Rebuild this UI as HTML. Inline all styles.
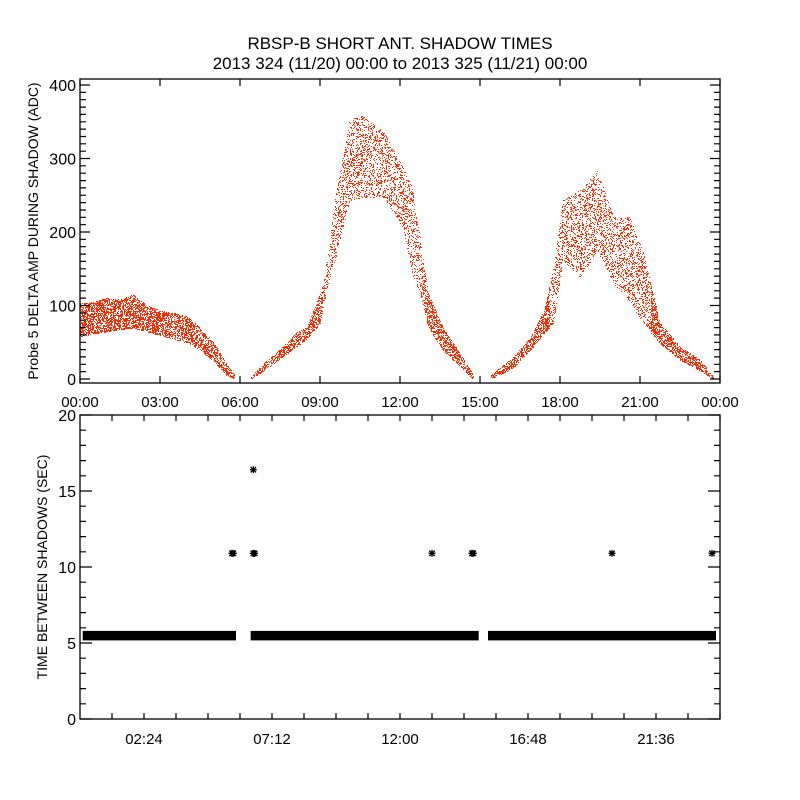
<!DOCTYPE html>
<html><head><meta charset="utf-8">
<style>
html,body{margin:0;padding:0;background:#fff;}
svg{display:block;font-family:"Liberation Sans",sans-serif;}
</style></head>
<body>
<svg id="chart" width="800" height="800" viewBox="0 0 800 800">
<rect x="0" y="0" width="800" height="800" fill="#fff"/>
<text x="400" y="49" text-anchor="middle" font-size="17">RBSP-B SHORT ANT. SHADOW TIMES</text>
<text x="400" y="69" text-anchor="middle" font-size="17">2013 324 (11/20) 00:00 to 2013 325 (11/21) 00:00</text>
<g id="topPanel"></g>
<g id="botPanel"></g>
</svg>
<script>
// ---- Top panel data: envelope (hours, low, high) of Probe 5 delta amplitude ----
const ampHours = [0,0.5,1,1.5,2,2.5,3,3.5,4,4.5,5,5.5,5.8, 6.4,7,7.5,8.1,8.5,9.0,9.3,9.5,10.1,10.6,11.4,12.1,12.45,12.75,13.05,13.6,14.4,14.75, 15.4,16.25,16.9,17.4,17.75,18.1,18.75,19.4,20.0,20.6,21.1,21.75,22.5,23.25,23.75];
const ampLow   = [58,62,65,68,70,65,60,55,50,40,25,5,0, 0,15,28,44,55,76,130,152,243,248,248,207,144,117,71,40,12,0, 0,16,40,63,76,162,139,175,130,107,76,49,26,12,0];
const ampHigh  = [103,105,110,108,115,100,93,90,85,70,50,20,5, 3,25,40,63,70,117,170,234,352,359,335,288,261,193,117,71,26,5, 5,30,57,94,152,243,257,284,220,220,175,76,44,26,3];
const ampGapsAfter = [5.8,14.75];
const yTicksTop = [0,100,200,300,400];
const xTickLabelsTop = ["00:00","03:00","06:00","09:00","12:00","15:00","18:00","21:00","00:00"];

// ---- Bottom panel data ----
const baseValue = 5.5;
const baseSegStart = [0.1,6.4,15.3];
const baseSegEnd   = [5.85,14.95,23.85];
const outlierHours = [5.7,5.75,6.5,6.55,6.5,13.2,14.7,14.75,19.95,23.7];
const outlierVals  = [10.9,10.9,10.9,10.9,16.4,10.9,10.9,10.9,10.9,10.9];
const yTicksBot = [0,5,10,15,20];
const xTickLabelsBot = ["02:24","07:12","12:00","16:48","21:36"];
const xTickHoursBot = [2.4,7.2,12,16.8,21.6];

const NS="http://www.w3.org/2000/svg";
function el(tag,attrs,parent){const e=document.createElementNS(NS,tag);for(const k in attrs)e.setAttribute(k,attrs[k]);parent.appendChild(e);return e;}
const L=80,R=720;
const xs=h=>L+(R-L)*h/24;
const topG=document.getElementById('topPanel'), botG=document.getElementById('botPanel');
const T1=79,B1=383;
const yT=v=>379-v*0.735;
let d="";
for(let px=L;px<=R;px++){
  const h=(px-L)*24/(R-L);
  let i=-1;
  for(let k=0;k<ampHours.length-1;k++){ if(h>=ampHours[k]&&h<=ampHours[k+1]){i=k;break;} }
  if(i<0) continue;
  if(ampGapsAfter.includes(ampHours[i])) continue;
  const t=(h-ampHours[i])/(ampHours[i+1]-ampHours[i]);
  const lo=ampLow[i]+t*(ampLow[i+1]-ampLow[i]);
  const hi=ampHigh[i]+t*(ampHigh[i+1]-ampHigh[i]);
  const y1=Math.round(yT(hi)), y2=Math.round(yT(lo));
  const dense = hi<130;
  for(let py=y1;py<=y2;py++){
    const hsh=Math.abs((px*7919+py*104729)^(px*py*31))%7;
    if(dense ? hsh<4 : hsh<2) d+=`M${px} ${py}h1v1h-1z`;
  }
}
const dots=el('path',{d:d,fill:'#ff2a00'},topG);


const f1=el('rect',{x:L,y:T1,width:R-L,height:B1-T1,fill:'none',stroke:'#000','stroke-width':1.3},topG);


let tk="";
for(let v=0;v<=400;v+=10){const y=yT(v).toFixed(1);const len=v%100===0?10:6;tk+=`M${L} ${y}h${len}M${R} ${y}h${-len}`;}
for(let h=0;h<=24;h+=3){const x=xs(h).toFixed(1);tk+=`M${x} ${B1}v-7M${x} ${T1}v7`;}
const tkp=el('path',{d:tk,stroke:'#000','stroke-width':1.2,fill:'none'},topG);


yTicksTop.forEach(v=>{const t=el('text',{x:L-4,y:yT(v)+6,'text-anchor':'end','font-size':16},topG);t.textContent=v;

});
xTickLabelsTop.forEach((s,i)=>{const t=el('text',{x:xs(i*3),y:407,'text-anchor':'middle','font-size':15},topG);t.textContent=s;

});
const yl1=el('text',{x:0,y:0,'text-anchor':'middle','font-size':14,transform:`translate(38,${(T1+B1)/2}) rotate(-90)`},topG);
yl1.textContent="Probe 5 DELTA AMP DURING SHADOW (ADC)";



const T2=415,B2=719;
const yB=v=>B2-v*(B2-T2)/20;
baseSegStart.forEach((s,i)=>{const r=el('rect',{x:xs(s),y:yB(baseValue)-4.5,width:xs(baseSegEnd[i])-xs(s),height:9.5,fill:'#000'},botG);

});
outlierHours.forEach((h,i)=>{const x=xs(h),y=yB(outlierVals[i]);
const a=el('path',{d:`M${x-3.5} ${y}h7M${x} ${y-3.5}v7M${x-2.7} ${y-2.7}l5.4 5.4M${x-2.7} ${y+2.7}l5.4 -5.4`,stroke:'#000','stroke-width':1.3},botG);

});
const f2=el('rect',{x:L,y:T2,width:R-L,height:B2-T2,fill:'none',stroke:'#000','stroke-width':1.3},botG);


let tk2="";
for(let v=0;v<=20;v+=1){const y=yB(v).toFixed(1);const len=v%5===0?12:6;tk2+=`M${L} ${y}h${len}M${R} ${y}h${-len}`;}
for(let h=1.2;h<24;h+=1.2){const x=xs(h).toFixed(1);tk2+=`M${x} ${B2}v-6M${x} ${T2}v6`;}
const tkp2=el('path',{d:tk2,stroke:'#000','stroke-width':1.2,fill:'none'},botG);


yTicksBot.forEach(v=>{const t=el('text',{x:L-4,y:yB(v)+6,'text-anchor':'end','font-size':16},botG);t.textContent=v;

});
xTickLabelsBot.forEach((s,i)=>{const t=el('text',{x:xs(xTickHoursBot[i]),y:744,'text-anchor':'middle','font-size':15},botG);t.textContent=s;

});
const yl2=el('text',{x:0,y:0,'text-anchor':'middle','font-size':14,transform:`translate(47,${(T2+B2)/2}) rotate(-90)`},botG);
yl2.textContent="TIME BETWEEN SHADOWS (SEC)";


</script>
</body></html>
